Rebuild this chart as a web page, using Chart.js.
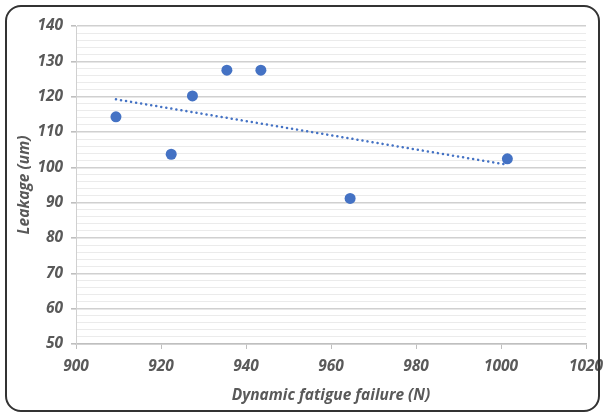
<!DOCTYPE html>
<html lang="en">
<head>
    <meta charset="UTF-8">
    <title>Leakage vs Dynamic fatigue failure</title>
    <style>
        html, body {
            margin: 0;
            padding: 0;
            background-color: white;
        }
        .wrap {
            position: relative;
            width: 604px;
            height: 417px;
        }
        .frame {
            position: absolute;
            left: 5px;
            top: 5px;
            width: 591px;
            height: 403px;
            border: 2px solid #333;
            border-radius: 16px;
            pointer-events: none;
        }
        canvas {
            position: absolute;
            left: 0;
            top: 0;
        }
    </style>
    <script src="https://cdn.jsdelivr.net/npm/chart.js"></script>
</head>
<body>
    <div class="wrap">
        <canvas id="scatterChart" width="604" height="417"></canvas>
        <div class="frame"></div>
    </div>

    <script>
        // Values
        const fatigueFailure = [909.4, 922.4, 927.4, 935.5, 943.5, 964.5, 1001.5];
        const leakage = [114.3, 103.7, 120.2, 127.5, 127.5, 91.2, 102.4];

        const xTicks = [900, 920, 940, 960, 980, 1000, 1020];
        const yTicks = [50, 60, 70, 80, 90, 100, 110, 120, 130, 140];

        const blue = '#4472C4';
        const textGray = '#595959';

        // Linear trendline (least squares) over the points
        function linearFit(xs, ys) {
            const n = xs.length;
            const mx = xs.reduce((a, b) => a + b, 0) / n;
            const my = ys.reduce((a, b) => a + b, 0) / n;
            let sxy = 0, sxx = 0;
            for (let i = 0; i < n; i++) {
                sxy += (xs[i] - mx) * (ys[i] - my);
                sxx += (xs[i] - mx) * (xs[i] - mx);
            }
            const slope = sxy / sxx;
            return x => my + slope * (x - mx);
        }
        const fit = linearFit(fatigueFailure, leakage);
        const xMin = Math.min(...fatigueFailure);
        const xMax = Math.max(...fatigueFailure);

        const points = fatigueFailure.map((x, i) => ({ x: x, y: leakage[i] }));
        const trend = [{ x: xMin, y: fit(xMin) }, { x: xMax, y: fit(xMax) }];

        const tickFont = { family: 'Open Sans', size: 15.5, weight: 'bold', style: 'italic' };
        const titleFont = { family: 'Open Sans', size: 15.5, weight: 'bold', style: 'italic' };

        const ctx = document.getElementById('scatterChart').getContext('2d');
        const chart = new Chart(ctx, {
            type: 'scatter',
            data: {
                datasets: [{
                    label: 'Leakage',
                    data: points,
                    backgroundColor: blue,
                    borderColor: blue,
                    pointRadius: 5.5,
                    pointBorderWidth: 0,
                    order: 1
                }, {
                    type: 'line',
                    label: 'Linear trend',
                    data: trend,
                    borderColor: blue,
                    borderWidth: 2.5,
                    borderDash: [0.1, 5],
                    borderCapStyle: 'round',
                    pointRadius: 0,
                    fill: false,
                    order: 2
                }]
            },
            options: {
                responsive: false,
                animation: false,
                devicePixelRatio: 1,
                layout: {
                    padding: { left: 0, right: 0, top: 26, bottom: 0 }
                },
                plugins: {
                    legend: { display: false },
                    tooltip: { enabled: false }
                },
                scales: {
                    x: {
                        type: 'linear',
                        min: xTicks[0],
                        max: xTicks[xTicks.length - 1],
                        afterBuildTicks: scale => {
                            scale.ticks = xTicks.map(v => ({ value: v }));
                        },
                        afterFit: scale => {
                            scale.height = 73;
                            scale.paddingRight = 18;
                            scale.paddingLeft = 0;
                        },
                        ticks: {
                            color: textGray,
                            font: tickFont,
                            padding: 8,
                            maxRotation: 0,
                            autoSkip: false,
                            callback: v => String(v)
                        },
                        grid: {
                            drawOnChartArea: false,
                            drawTicks: true,
                            tickLength: 5,
                            tickColor: '#bfbfbf'
                        },
                        border: { color: '#bfbfbf', width: 1.5 },
                        title: {
                            display: true,
                            text: 'Dynamic fatigue failure (N)',
                            color: textGray,
                            font: titleFont,
                            padding: { top: 0, bottom: 12 }
                        }
                    },
                    y: {
                        min: 50,
                        max: 140,
                        afterBuildTicks: scale => {
                            const t = [];
                            for (let v = yTicks[0]; v <= yTicks[yTicks.length - 1]; v += 2) {
                                t.push({ value: v });
                            }
                            scale.ticks = t;
                        },
                        afterFit: scale => { scale.width = 76; },
                        ticks: {
                            color: textGray,
                            font: tickFont,
                            padding: 8,
                            autoSkip: false,
                            callback: v => yTicks.includes(v) ? String(v) : ''
                        },
                        grid: {
                            color: c => yTicks.includes(c.tick.value) ? '#d0d0d0' : '#ebebeb',
                            lineWidth: c => yTicks.includes(c.tick.value) ? 1.6 : 1,
                            tickColor: c => yTicks.includes(c.tick.value) ? '#bfbfbf' : 'rgba(0,0,0,0)',
                            tickLength: 5
                        },
                        border: { color: '#d0d0d0', width: 1 },
                        title: {
                            display: true,
                            text: 'Leakage (um)',
                            color: textGray,
                            font: titleFont,
                            padding: { top: 15, bottom: 0 }
                        }
                    }
                }
            }
        });
    </script>
</body>
</html>
